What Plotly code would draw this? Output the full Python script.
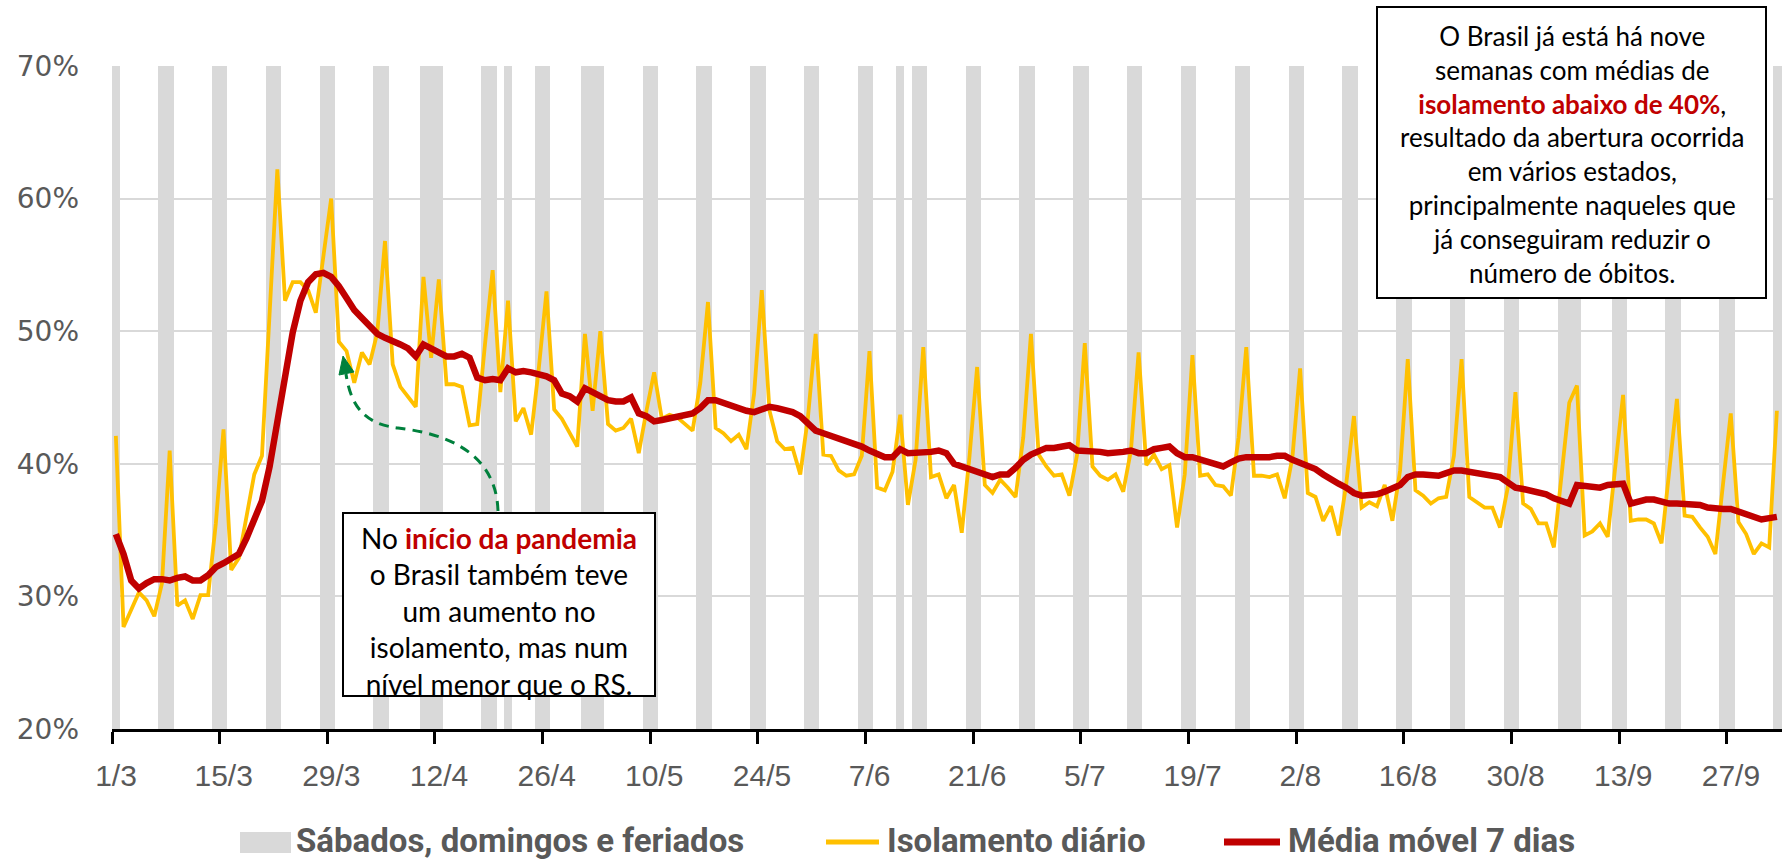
import plotly.graph_objects as go
from datetime import date

# ---------------- data ----------------
inicio = date(2020, 3, 1)

isolamento_diario = [
    42.1, 27.7, 29.0, 30.3, 29.7, 28.5, 31.0, 41.0, 29.3, 29.7,
    28.3, 30.1, 30.1, 35.5, 42.6, 32.0, 32.9, 35.9, 39.2, 40.6,
    51.0, 62.2, 52.3, 53.7, 53.7, 53.1, 51.4, 55.5, 60.0, 49.2,
    48.5, 46.1, 48.4, 47.5, 49.9, 56.8, 47.5, 45.8, 45.0, 44.3,
    54.1, 48.0, 53.9, 46.0, 46.0, 45.8, 42.9, 43.0, 49.0, 54.6,
    45.4, 52.3, 43.2, 44.2, 42.2, 47.2, 53.0, 44.1, 43.4, 42.3,
    41.3, 49.8, 44.0, 50.0, 43.0, 42.5, 42.7, 43.4, 40.8, 44.0,
    46.9, 43.4, 43.7, 43.5, 43.0, 42.5, 46.1, 52.2, 42.7, 42.3,
    41.7, 42.2, 41.1, 45.3, 53.1, 44.0, 41.7, 41.1, 41.2, 39.2,
    43.5, 49.8, 40.7, 40.6, 39.5, 39.1, 39.2, 40.6, 48.5, 38.2,
    38.0, 39.4, 43.7, 36.9, 40.3, 48.8, 39.0, 39.2, 37.4, 38.4,
    34.8, 40.5, 47.3, 38.4, 37.8, 38.8, 38.2, 37.5, 42.0, 49.8,
    40.7, 39.8, 39.1, 39.2, 37.6, 40.7, 49.1, 39.8, 39.1, 38.8,
    39.2, 37.9, 41.0, 48.4, 39.9, 40.7, 39.6, 39.9, 35.2, 39.2,
    48.2, 39.1, 39.2, 38.4, 38.3, 37.6, 42.0, 48.8, 39.1, 39.1,
    39.0, 39.2, 37.4, 40.5, 47.2, 37.8, 37.5, 35.7, 36.8, 34.6,
    38.5, 43.6, 36.7, 37.1, 36.8, 38.4, 35.7, 39.5, 47.9, 38.0,
    37.6, 37.0, 37.4, 37.5, 40.6, 47.9, 37.5, 37.1, 36.7, 36.7,
    35.2, 38.2, 45.4, 37.0, 36.6, 35.5, 35.5, 33.7, 39.5, 44.6,
    45.9, 34.6, 34.9, 35.5, 34.5, 40.0, 45.2, 35.7, 35.8, 35.8,
    35.5, 34.0, 39.5, 44.9, 36.1, 36.0, 35.2, 34.5, 33.2, 38.5,
    43.8, 35.6, 34.7, 33.2, 34.0, 33.7, 44.0,
]

media_movel_7_dias = [
    34.7, 33.2, 31.2, 30.6, 31.0, 31.3, 31.3, 31.2, 31.4, 31.5,
    31.2, 31.2, 31.6, 32.2, 32.5, 32.8, 33.2, 34.4, 35.7, 37.2,
    39.8, 43.2, 46.7, 49.9, 52.3, 53.7, 54.3, 54.4, 54.1, 53.4,
    52.5, 51.6, 51.0, 50.4, 49.8, 49.5, 49.3, 49.0, 48.7, 48.1,
    49.0, 48.7, 48.3, 48.1, 48.1, 48.3, 48.0, 46.5, 46.3, 46.4,
    46.3, 47.2, 46.9, 47.0, 46.9, 46.8, 46.6, 46.3, 45.3, 45.1,
    44.7, 45.7, 45.4, 45.0, 44.8, 44.7, 44.7, 45.0, 43.8, 43.6,
    43.2, 43.3, 43.4, 43.5, 43.6, 43.8, 44.2, 44.8, 44.8, 44.6,
    44.3, 44.2, 44.0, 43.9, 44.1, 44.3, 44.2, 44.1, 43.9, 43.6,
    43.0, 42.5, 42.3, 42.1, 41.9, 41.7, 41.6, 41.3, 41.0, 40.8,
    40.5, 40.5, 41.1, 40.8, 40.8, 40.8, 40.9, 41.0, 40.8, 40.0,
    39.8, 39.6, 39.4, 39.2, 39.0, 39.2, 39.2, 39.7, 40.3, 40.7,
    41.0, 41.2, 41.2, 41.3, 41.4, 41.0, 41.0, 40.9, 40.9, 40.8,
    40.8, 40.9, 41.0, 40.8, 40.8, 41.1, 41.2, 41.3, 40.8, 40.5,
    40.5, 40.3, 40.1, 40.0, 39.8, 40.1, 40.4, 40.5, 40.5, 40.4,
    40.5, 40.6, 40.6, 40.3, 40.1, 39.9, 39.6, 39.2, 38.8, 38.5,
    38.2, 37.8, 37.6, 37.6, 37.7, 37.9, 38.1, 38.4, 39.0, 39.2,
    39.2, 39.2, 39.1, 39.3, 39.5, 39.5, 39.4, 39.3, 39.2, 39.2,
    39.0, 38.6, 38.2, 38.1, 38.0, 37.9, 37.7, 37.4, 37.2, 37.0,
    38.4, 38.3, 38.2, 38.2, 38.4, 38.4, 38.5, 37.0, 37.2, 37.3,
    37.3, 37.1, 37.0, 37.0, 37.0, 37.0, 36.9, 36.7, 36.6, 36.6,
    36.6, 36.4, 36.2, 35.9, 35.8, 35.9, 36.0,
]

sabados_domingos_feriados = [
    "1/3", "7/3", "8/3", "14/3", "15/3", "21/3", "22/3", "28/3", "29/3",
    "4/4", "5/4", "10/4", "11/4", "12/4", "18/4", "19/4", "21/4", "25/4", "26/4",
    "1/5", "2/5", "3/5", "9/5", "10/5", "16/5", "17/5", "23/5", "24/5", "30/5", "31/5",
    "6/6", "7/6", "11/6", "13/6", "14/6", "20/6", "21/6", "27/6", "28/6",
    "4/7", "5/7", "11/7", "12/7", "18/7", "19/7", "25/7", "26/7",
    "1/8", "2/8", "8/8", "9/8", "15/8", "16/8", "22/8", "23/8", "29/8", "30/8",
    "5/9", "6/9", "7/9", "12/9", "13/9", "19/9", "20/9", "26/9", "27/9",
    "3/10", "4/10",
]
altura_barra = 0.70

tick_labels = ["1/3", "15/3", "29/3", "12/4", "26/4", "10/5", "24/5", "7/6",
               "21/6", "5/7", "19/7", "2/8", "16/8", "30/8", "13/9", "27/9"]


def dia(txt):
    d, m = txt.split("/")
    return (date(2020, int(m), int(d)) - inicio).days


x_dias = list(range(len(isolamento_diario)))
x_barras = [dia(t) for t in sabados_domingos_feriados]
x_ticks = [dia(t) - 0.5 for t in tick_labels]

# ---------------- layout geometry ----------------
W, H = 1782, 861
ML, MR, MT, MB = 112, 0, 66, 132
PW, PH = W - ML - MR, H - MT - MB
PX_DIA = 7.69


def px(x):
    return (x - ML) / PW


def py(y):
    return (H - MB - y) / PH


AMARELO = "#FFC000"
VERMELHO = "#C00000"
CINZA = "#D9D9D9"
TXT = "#595959"
VERDE = "#00803C"

fig = go.Figure()
fig.add_trace(go.Bar(
    x=x_barras, y=[altura_barra] * len(x_barras), width=1.0,
    marker=dict(color=CINZA, line=dict(width=0)),
    name="Sábados, domingos e feriados", showlegend=False, hoverinfo="skip"))
fig.add_trace(go.Scatter(
    x=x_dias, y=[v / 100 for v in isolamento_diario], mode="lines",
    line=dict(color=AMARELO, width=3.8), name="Isolamento diário", showlegend=False))
fig.add_trace(go.Scatter(
    x=x_dias, y=[v / 100 for v in media_movel_7_dias], mode="lines",
    line=dict(color=VERMELHO, width=6.5), name="Média móvel 7 dias", showlegend=False))

fig.update_layout(
    width=W, height=H,
    margin=dict(l=ML, r=MR, t=MT, b=MB, pad=0),
    paper_bgcolor="white", plot_bgcolor="white",
    bargap=0,
    xaxis=dict(
        range=[-0.5, -0.5 + PW / PX_DIA],
        tickmode="array", tickvals=x_ticks, ticktext=tick_labels,
        ticks="outside", ticklen=12, tickwidth=3, tickcolor="black",
        ticklabelshift=4, ticklabelstandoff=6,
        showline=True, linecolor="black", linewidth=3,
        showgrid=False, zeroline=False,
        tickfont=dict(family="Liberation Sans", size=30, color=TXT),
    ),
    yaxis=dict(
        range=[0.2, 0.7], dtick=0.1, tickformat=".0%",
        showgrid=True, gridcolor=CINZA, gridwidth=2,
        zeroline=False, showline=False, ticks="",
        ticklabelstandoff=32,
        tickfont=dict(family="DejaVu Sans", size=28, color=TXT),
    ),
    font=dict(family="Lato"),
)

# ---------------- annotation boxes ----------------
fig.add_shape(type="rect", xref="paper", yref="paper",
              x0=px(1377), x1=px(1766), y0=py(7), y1=py(298),
              line=dict(color="black", width=2), fillcolor="white", layer="above")
fig.add_annotation(
    xref="paper", yref="paper", x=px(1572), y=py(155), showarrow=False,
    xanchor="center", yanchor="middle", align="center",
    font=dict(family="Lato", size=26, color="black"),
    text=("O Brasil já está há nove<br>semanas com médias de<br>"
          "<b><span style='color:#C00000'>isolamento abaixo de 40%</span></b>,<br>"
          "resultado da abertura ocorrida<br>em vários estados,<br>"
          "principalmente naqueles que<br>já conseguiram reduzir o<br>número de óbitos."))

fig.add_shape(type="rect", xref="paper", yref="paper",
              x0=px(343), x1=px(655), y0=py(513), y1=py(696),
              line=dict(color="black", width=2), fillcolor="white", layer="above")
fig.add_annotation(
    xref="paper", yref="paper", x=px(499), y=py(611), showarrow=False,
    xanchor="center", yanchor="middle", align="center",
    font=dict(family="Lato", size=28, color="black"),
    text=("No <b><span style='color:#C00000'>início da pandemia</span></b><br>"
          "o Brasil também teve<br>um aumento no<br>isolamento, mas num<br>nível menor que o RS."))

# ---------------- green dashed arrow ----------------
def P(x, y):
    return f"{px(x)},{py(y)}"


fig.add_shape(type="path", xref="paper", yref="paper",
              path=f"M {P(498, 511)} C {P(496, 445)} {P(432, 432)} {P(398, 428)} "
                   f"C {P(366, 424)} {P(351, 408)} {P(346, 374)}",
              line=dict(color=VERDE, width=3, dash="10px,7px"), layer="above")
fig.add_shape(type="path", xref="paper", yref="paper",
              path=f"M {P(343, 356)} L {P(354, 372)} L {P(339, 375)} Z",
              line=dict(color=VERDE, width=1), fillcolor=VERDE, layer="above")

# ---------------- legend (drawn) ----------------
LEG_Y = 840
LEG_FONT = dict(family="Roboto", size=33, color=TXT, weight="bold")
fig.add_shape(type="rect", xref="paper", yref="paper",
              x0=px(240), x1=px(291), y0=py(832), y1=py(853),
              line=dict(width=0), fillcolor=CINZA)
fig.add_shape(type="line", xref="paper", yref="paper",
              x0=px(826), x1=px(879), y0=py(842), y1=py(842),
              line=dict(color=AMARELO, width=5))
fig.add_shape(type="line", xref="paper", yref="paper",
              x0=px(1224), x1=px(1280), y0=py(842), y1=py(842),
              line=dict(color=VERMELHO, width=7))
for xl, txt in [(295, "Sábados, domingos e feriados"), (886, "Isolamento diário"),
                (1287, "Média móvel 7 dias")]:
    fig.add_annotation(xref="paper", yref="paper", x=px(xl), y=py(LEG_Y),
                       xanchor="left", yanchor="middle", showarrow=False,
                       text=txt, font=LEG_FONT, borderpad=0)

fig.write_html("out.html", config={"displayModeBar": False},
               post_script="document.body.style.margin='0';document.body.style.overflow='hidden';")
